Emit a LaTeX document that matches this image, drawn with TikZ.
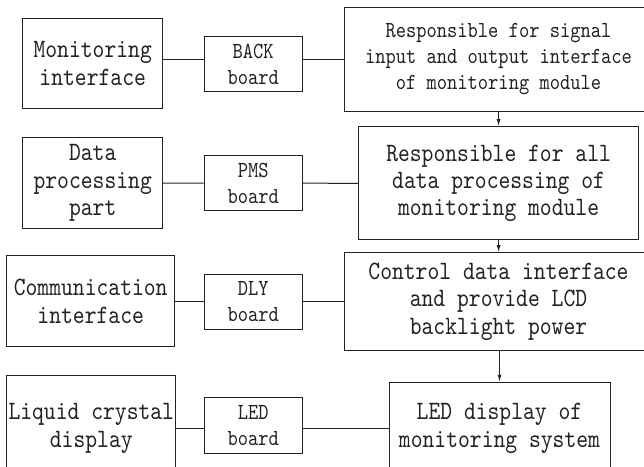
\documentclass[tikz,border=0pt]{standalone}
\usepackage{fontspec}
\usepackage{tikz}
\usetikzlibrary{arrows.meta}
\newfontfamily\boxfont[Extension=.otf,FakeStretch=0.85]{lmmono10-regular}
\definecolor{Ink}{HTML}{222222}

\begin{document}
\begin{tikzpicture}[x=1pt,y=-1pt,>={Latex[length=7pt,width=4pt]},
    blk/.style={draw=Ink,line width=1pt,inner sep=0pt,align=center,text=Ink,
      font=\boxfont\fontsize{26.5}{27.3}\selectfont},
    brd/.style={blk,font=\boxfont\fontsize{23}{26}\selectfont},
    lnk/.style={Ink,line width=1pt}]
    \clip (0,0) rectangle (644,466);
    \fill[white] (0,0) rectangle (644,466);

    \node[blk,minimum width=140,minimum height=90.4] (mon) at (92.7,63.5)
      {Monitoring\\interface};
    \node[brd,minimum width=98.3,minimum height=54.6] (back) at (253.2,64)
      {BACK\\board};
    \node[brd,minimum width=309,minimum height=104] (resp1) at (498.5,59.3)
      {Responsible for signal\\input and output interface\\of monitoring module};

    \node[blk,minimum width=140,minimum height=90.6] (data) at (92.7,183)
      {Data\\processing\\part};
    \node[brd,minimum width=98.3,minimum height=55] (pms) at (253.2,183.2)
      {PMS\\board};
    \node[blk,minimum width=280.2,minimum height=113.3] (resp2) at (498.6,183.3)
      {Responsible for all\\data processing of\\monitoring module};

    \node[blk,minimum width=168,minimum height=90.7] (comm) at (90.7,301.3)
      {Communication\\interface};
    \node[brd,minimum width=98.3,minimum height=55.3] (dly) at (253.2,301.7)
      {DLY\\board};
    \node[blk,minimum width=309,minimum height=98] (resp3) at (498.5,301.7)
      {Control data interface\\and provide LCD\\backlight power};

    \node[blk,minimum width=169.3,minimum height=105] (lcd) at (91.3,428.3)
      {Liquid crystal\\display};
    \node[brd,minimum width=98.3,minimum height=55.6] (led) at (253.2,425.5)
      {LED\\board};
    \node[blk,minimum width=221,minimum height=92] (resp4) at (499.5,428.3)
      {LED display of\\monitoring system};

    \draw[lnk] (mon.east |- resp1.west) -- (back.west |- resp1.west);
    \draw[lnk] (back.east |- resp1.west) -- (resp1.west);
    \draw[lnk] (data.east) -- (pms.west);
    \draw[lnk] (pms.east) -- (resp2.west);
    \draw[lnk] (comm.east |- resp3.west) -- (dly.west |- resp3.west);
    \draw[lnk] (dly.east |- resp3.west) -- (resp3.west);
    \draw[lnk] (lcd.east |- resp4.west) -- (led.west |- resp4.west);
    \draw[lnk] (led.east |- resp4.west) -- (resp4.west);

    \draw[lnk,->] (resp1.south -| resp2.north) -- (resp2.north);
    \draw[lnk,->] (resp2.south) -- (resp2.south |- resp3.north);
    \draw[lnk,->] (resp3.south -| resp4.north) -- (resp4.north);
  \end{tikzpicture}
\end{document}
